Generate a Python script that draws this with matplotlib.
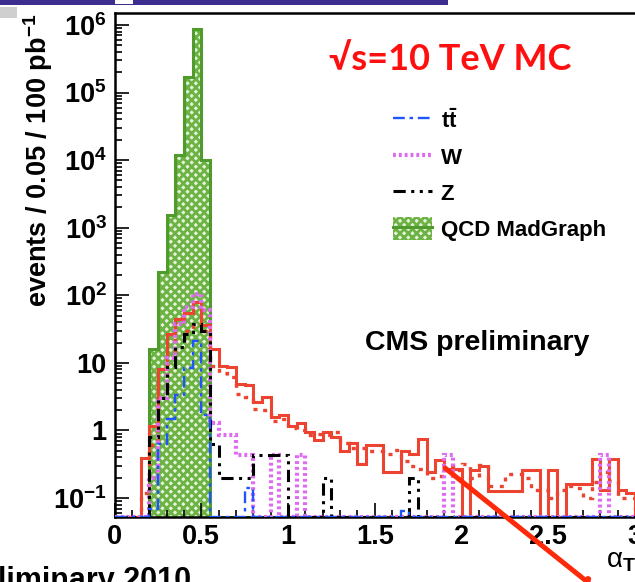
import numpy as np
import matplotlib.pyplot as plt
from matplotlib.lines import Line2D
from matplotlib.patches import Patch, Rectangle, Circle
from matplotlib.ticker import FuncFormatter, LogLocator, MultipleLocator, NullFormatter

plt.rcParams['font.family'] = ['Liberation Sans', 'DejaVu Sans']
plt.rcParams['font.weight'] = 'bold'
plt.rcParams['mathtext.fontset'] = 'custom'
plt.rcParams['mathtext.rm'] = 'Liberation Sans:bold'
plt.rcParams['mathtext.bf'] = 'Liberation Sans:bold'
plt.rcParams['mathtext.it'] = 'Liberation Sans:bold:italic'
plt.rcParams['hatch.linewidth'] = 2.0

# alpha_T distributions, 60 bins of 0.05 from 0 to 3, events / 100 pb^-1
alpha_t_edges = np.linspace(0.0, 3.0, 61)

qcd_madgraph = [
    0, 0, 0, 0, 16, 220, 1550, 12000, 170000, 870000,
    10000, 0, 0, 0, 0, 0, 0, 0, 0, 0,
    0, 0, 0, 0, 0, 0, 0, 0, 0, 0,
    0, 0, 0, 0, 0, 0, 0, 0, 0, 0,
    0, 0, 0, 0, 0, 0, 0, 0, 0, 0,
    0, 0, 0, 0, 0, 0, 0, 0, 0, 0,
]
ttbar = [
    0, 0, 0, 0, 0.07, 0.64, 1.5, 3.3, 8.5, 21,
    1.7, 0, 0, 0, 0, 0.14, 0, 0, 0, 0,
    0, 0, 0, 0, 0, 0, 0, 0, 0, 0,
    0, 0, 0, 0.065, 0, 0, 0, 0, 0, 0,
    0, 0, 0, 0, 0, 0, 0, 0, 0, 0,
    0, 0, 0, 0, 0, 0, 0, 0, 0, 0,
]
w_jets = [
    0, 0, 0, 0, 0.2, 3, 12, 38, 66, 105,
    60, 1.3, 0.86, 0.86, 0.43, 0.43, 0, 0, 0.43, 0,
    0, 0.43, 0, 0, 0, 0, 0, 0, 0, 0,
    0, 0, 0, 0, 0, 0, 0, 0, 0.43, 0,
    0, 0, 0, 0, 0, 0, 0, 0, 0, 0,
    0, 0, 0, 0, 0, 0, 0.43, 0, 0, 0,
]
z_jets = [
    0, 0, 0, 0, 0.8, 3, 8.6, 17, 27, 38,
    30, 0.64, 0.2, 0.2, 0.2, 0.2, 0.43, 0.43, 0.43, 0.43,
    0, 0, 0, 0, 0.2, 0, 0, 0, 0, 0,
    0, 0, 0, 0, 0.2, 0, 0, 0, 0, 0,
    0, 0, 0, 0, 0, 0, 0, 0, 0, 0,
    0, 0, 0, 0, 0, 0, 0, 0, 0, 0,
]
signal_solid = [
    0, 0, 0, 0.39, 1.15, 8.2, 27, 44, 55, 79,
    36, 16, 8.9, 8.6, 4.9, 4.7, 2.6, 3.1, 1.6, 1.7,
    1.15, 1.3, 0.95, 0.72, 0.95, 0.8, 0.5, 0.65, 0.32, 0.6,
    0.6, 0.24, 0.24, 0.5, 0.45, 0.75, 0.24, 0.36, 0.27, 0.27,
    0, 0.26, 0.3, 0.126, 0.126, 0.126, 0.126, 0.26, 0.26, 0,
    0.26, 0, 0.16, 0.16, 0.16, 0.38, 0.13, 0.38, 0.13, 0.12,
]
signal_dotted = [
    0, 0, 0, 0.12, 0.6, 4.5, 14, 22, 30, 38,
    30, 9, 7, 6.2, 3.5, 3.1, 2.1, 2.0, 1.4, 1.5,
    1.1, 1.0, 0.85, 0.9, 0.85, 0.95, 0.65, 0.55, 0.55, 0.5,
    0.5, 0.45, 0.52, 0.35, 0.3, 0.27, 0.2, 0.21, 0.3, 0.26,
    0.32, 0.2, 0.31, 0.15, 0.15, 0.23, 0.23, 0.2, 0.13, 0.13,
    0.1, 0.13, 0.15, 0.14, 0.1, 0.17, 0.24, 0.18, 0.1, 0.1,
]

W, H = 635, 582
Y_LOW, Y_HIGH = 0.0524, 1.52e6

GREEN_LINE = '#4f9b2c'
GREEN_HATCH = '#6cb344'
BLUE = '#1f55ff'
VIOLET = '#dd6cf0'
RED = '#ec4430'


def fx(x):
    return x / W


def fy(y):
    return 1 - y / H


def floor(values):
    # empty bins sit on the lower edge of the frame
    v = np.asarray(values, dtype=float)
    return np.where(v > 0, v, Y_LOW)


fig = plt.figure(figsize=(W / 100, H / 100), dpi=100)
ax = fig.add_axes([fx(114.5), fy(517), 1 - fx(114.5), (517 - 12.7) / H])

ax.stairs(floor(qcd_madgraph), alpha_t_edges, baseline=Y_LOW, fill=True,
          facecolor='#e4f2dc', edgecolor=GREEN_HATCH, hatch='xxxx', linewidth=0, zorder=1)
ax.stairs(floor(qcd_madgraph), alpha_t_edges, baseline=Y_LOW,
          color=GREEN_LINE, linewidth=2.2, zorder=2)
ax.stairs(floor(signal_solid), alpha_t_edges, baseline=Y_LOW,
          color=RED, linewidth=2.2, zorder=3)
ax.stairs(floor(signal_dotted), alpha_t_edges, baseline=Y_LOW,
          color=RED, linewidth=2.4, linestyle=(0, (1.2, 2.0)), zorder=3)
ax.stairs(floor(w_jets), alpha_t_edges, baseline=Y_LOW,
          color=VIOLET, linewidth=3.0, linestyle=(0, (0.7, 0.7)), zorder=4)
ax.stairs(floor(z_jets), alpha_t_edges, baseline=Y_LOW,
          color='black', linewidth=2.2, linestyle=(0, (4, 1.8, 1, 1.8, 1, 1.8)), zorder=4)
ax.stairs(floor(ttbar), alpha_t_edges, baseline=Y_LOW,
          color=BLUE, linewidth=1.7, linestyle=(0, (5, 2, 1.5, 2)), zorder=5)

ax.set_xlim(0, 3.0)
ax.set_yscale('log')
ax.set_ylim(Y_LOW, Y_HIGH)

ax.xaxis.set_major_locator(MultipleLocator(0.5))
ax.xaxis.set_minor_locator(MultipleLocator(0.1))
ax.xaxis.set_major_formatter(FuncFormatter(lambda v, p: f'{v:g}'))
ax.yaxis.set_major_locator(LogLocator(base=10, numticks=20))
ax.yaxis.set_minor_locator(LogLocator(base=10, subs=np.arange(2, 10), numticks=50))
ax.yaxis.set_minor_formatter(NullFormatter())


def decade_label(v, pos):
    e = int(round(np.log10(v)))
    if e == 0:
        return '1'
    if e == 1:
        return '10'
    return r'$10^{%d}$' % e


ax.yaxis.set_major_formatter(FuncFormatter(decade_label))
ax.tick_params(which='both', direction='in', width=1.2, labelsize=19.5)
ax.tick_params(which='major', length=10)
ax.tick_params(which='minor', length=5)
ax.tick_params(axis='x', pad=5)
ax.tick_params(axis='y', pad=5.5)
ax.spines['right'].set_visible(False)
for side in ('left', 'bottom', 'top'):
    ax.spines[side].set_linewidth(1.8)

fig.text(fx(38), fy(14), r'events / 0.05 / 100 pb$^{-1}$', rotation=90,
         ha='center', va='top', fontsize=19.5, fontweight='bold')

handles = [
    Line2D([], [], color=BLUE, linewidth=1.7, linestyle=(0, (5, 2, 1.5, 2))),
    Line2D([], [], color=VIOLET, linewidth=3.0, linestyle=(0, (0.7, 0.7))),
    Line2D([], [], color='black', linewidth=2.2, linestyle=(0, (4, 1.8, 1, 1.8, 1, 1.8))),
    (Patch(facecolor='#e4f2dc', edgecolor=GREEN_HATCH, hatch='xxxx', linewidth=0),
     Line2D([], [], color=GREEN_LINE, linewidth=2.2)),
]
labels = [r'$\mathrm{t\bar{t}}$', 'W', 'Z', 'QCD MadGraph']
ax.legend(handles, labels, loc='upper left', bbox_to_anchor=(fx(393), fy(109)),
          bbox_transform=fig.transFigure, frameon=False, fontsize=16,
          handlelength=1.75, handleheight=1.2, handletextpad=0.4,
          labelspacing=0.55, borderpad=0, borderaxespad=0)

fig.text(fx(450), fy(59), '√s=10 TeV MC', ha='center', va='center',
         fontsize=26, fontweight='bold', color='#ff1010', family=['Lato', 'DejaVu Sans'])
fig.text(fx(365), fy(350), 'CMS preliminary', ha='left', va='baseline',
         fontsize=20.5, fontweight='bold')

# slide decorations around the plot
fig.add_artist(Rectangle((0, fy(5)), fx(448), fy(0) - fy(5), transform=fig.transFigure,
                         facecolor='#3d2d8e', edgecolor='none'))
fig.add_artist(Rectangle((fx(115), fy(4)), fx(18), fy(0) - fy(4), transform=fig.transFigure,
                         facecolor='white', edgecolor='none'))
fig.add_artist(Rectangle((0, fy(18)), fx(17), fy(7) - fy(18), transform=fig.transFigure,
                         facecolor='#cfcfcf', edgecolor='none'))
fig.text(fx(-2), fy(589), 'liminary 2010', ha='left', va='baseline',
         fontsize=22, fontweight='bold')
fig.text(fx(606), fy(568), r'α$_{\mathrm{T}}$', ha='left', va='baseline', fontsize=20,
         fontweight='normal')
fig.add_artist(Line2D([fx(445), fx(590)], [fy(468), fy(584)], transform=fig.transFigure,
                      color='#ff2a0a', linewidth=3.6, solid_capstyle='round'))
fig.add_artist(Circle((fx(588), fy(579)), 0.005, transform=fig.transFigure,
                      facecolor='#ff2a0a', edgecolor='none'))

fig.savefig('out.png', dpi=100)
